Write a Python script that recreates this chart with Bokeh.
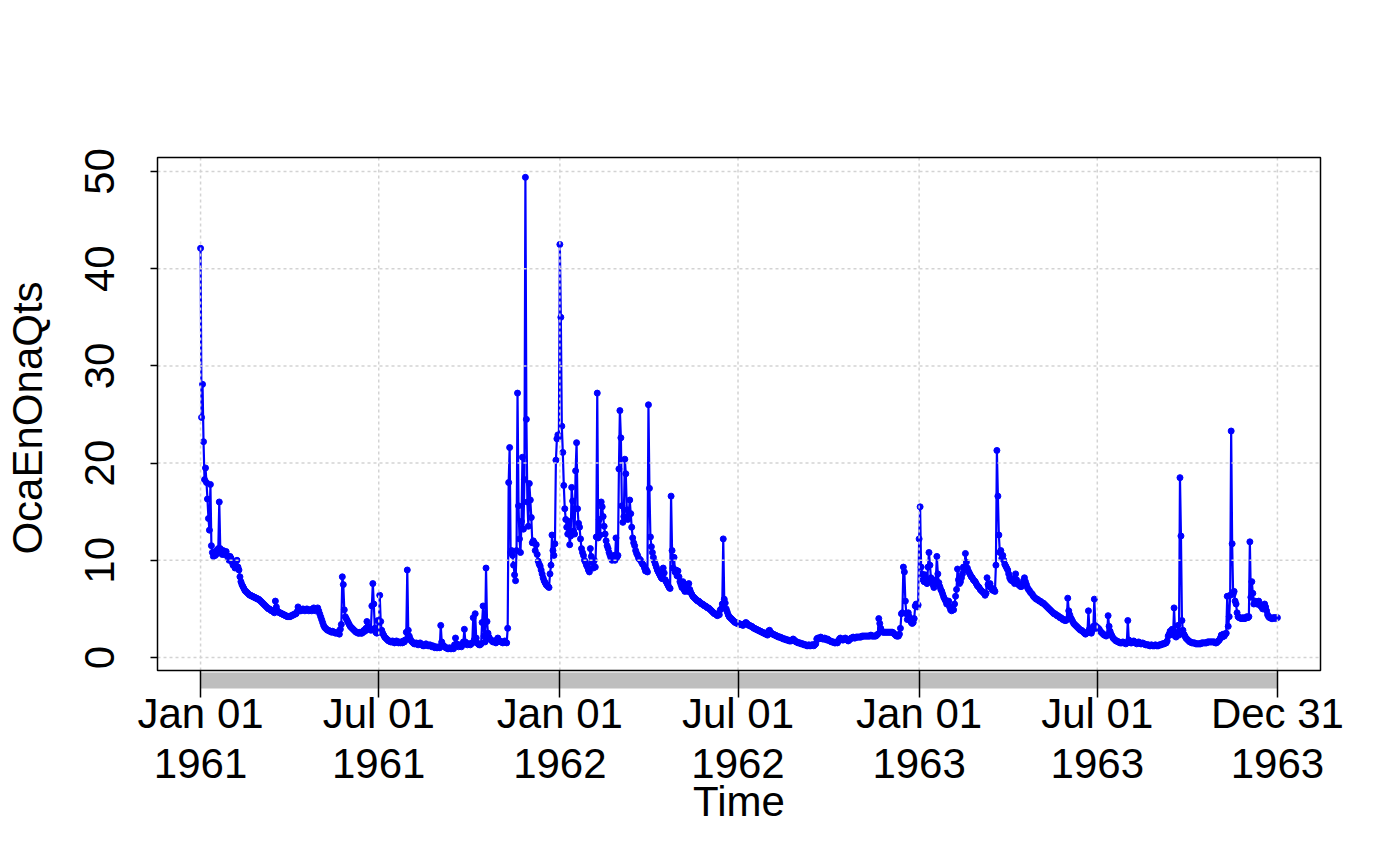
import pandas as pd
from bokeh.plotting import figure
from bokeh.models import Range1d, FixedTicker, ColumnDataSource
from bokeh.embed import file_html
from bokeh.resources import INLINE

# ---- daily values, one list per month ----
q_1961_01 = [42.1, 24.7, 28.1, 22.2, 18.3, 19.5, 18.0, 16.3, 14.3, 13.1,
             17.8, 11.5, 10.8, 10.4, 10.6, 10.5, 11.0, 10.7, 11.2, 16.0,
             11.2, 10.8, 10.6, 11.0, 10.6, 10.8, 10.9, 10.5, 10.2, 10.0, 10.4]
q_1961_02 = [10.2, 9.8, 9.5, 9.6, 9.2, 9.4, 10.0, 9.3, 9.0, 8.3,
             7.8, 7.5, 7.3, 7.1, 6.9, 6.8, 6.7, 6.6, 6.5, 6.4,
             6.4, 6.3, 6.3, 6.2, 6.2, 6.1, 6.1, 6.0]
q_1961_03 = [6.0, 5.9, 5.8, 5.7, 5.6, 5.5, 5.4, 5.3, 5.2, 5.1,
             5.0, 5.0, 4.9, 4.8, 4.8, 4.7, 4.6, 5.8, 5.2, 4.8,
             4.7, 4.6, 4.6, 4.5, 4.5, 4.4, 4.4, 4.3, 4.3, 4.2, 4.2]
q_1961_04 = [4.2, 4.2, 4.3, 4.3, 4.4, 4.4, 4.5, 4.5, 4.7, 5.2,
             4.9, 4.8, 4.8, 4.9, 5.0, 4.9, 4.8, 4.9, 5.0, 4.9,
             4.8, 4.9, 4.9, 4.8, 5.0, 5.1, 4.9, 4.8, 4.9, 5.1]
q_1961_05 = [4.8, 4.5, 4.2, 3.9, 3.6, 3.3, 3.1, 3.0, 2.9, 2.8,
             2.8, 2.7, 2.7, 2.6, 2.7, 2.6, 2.6, 2.5, 2.6, 2.5,
             2.5, 2.4, 2.9, 3.4, 8.3, 7.5, 4.9, 4.2, 4.0, 3.8, 3.6]
q_1961_06 = [3.4, 3.2, 3.1, 3.0, 2.9, 2.8, 2.7, 2.6, 2.6, 2.5,
             2.5, 2.6, 2.5, 2.5, 2.6, 2.8, 2.7, 3.0, 3.7, 3.2,
             2.9, 3.0, 2.8, 5.3, 7.6, 5.5, 3.0, 2.6, 2.5, 3.8]
q_1961_07 = [2.6, 6.4, 3.7, 2.8, 2.5, 2.3, 2.1, 2.0, 1.9, 1.8,
             1.7, 1.7, 1.6, 1.6, 1.7, 1.6, 1.5, 1.6, 1.7, 1.6,
             1.5, 1.6, 1.5, 1.6, 1.5, 1.7, 1.6, 1.8, 2.6, 9.0, 2.8]
q_1961_08 = [2.2, 1.9, 1.7, 1.6, 1.5, 1.4, 1.4, 1.5, 1.4, 1.3,
             1.4, 1.5, 1.4, 1.3, 1.2, 1.2, 1.3, 1.4, 1.3, 1.2,
             1.2, 1.3, 1.2, 1.1, 1.2, 1.1, 1.0, 1.1, 1.0, 1.0, 1.1]
q_1961_09 = [1.0, 3.3, 1.6, 1.3, 1.2, 1.1, 1.0, 1.0, 0.9, 0.9,
             1.0, 0.9, 0.9, 1.0, 0.9, 1.3, 2.0, 1.4, 1.2, 1.1,
             1.3, 1.2, 1.1, 1.3, 1.6, 2.9, 1.6, 1.4, 1.3, 1.4]
q_1961_10 = [1.4, 1.3, 1.4, 1.5, 4.1, 1.8, 4.5, 2.0, 1.5, 1.4,
             1.3, 1.3, 1.4, 3.6, 5.3, 2.2, 1.6, 9.2, 3.7, 2.5,
             2.1, 1.9, 1.8, 1.7, 1.6, 1.7, 1.6, 1.5, 1.8, 2.0, 1.7]
q_1961_11 = [1.7, 1.6, 1.6, 1.5, 1.6, 1.7, 1.6, 1.5, 3.0, 18.0,
             21.6, 10.8, 11.0, 10.5, 9.5, 8.5, 7.9, 11.0, 27.2, 15.6,
             12.2, 10.8, 14.0, 20.6, 13.2, 18.3, 49.4, 24.5, 16.0, 13.5]
q_1961_12 = [17.9, 16.2, 14.4, 11.8, 12.0, 11.8, 11.0, 11.6, 10.6, 9.9,
             9.6, 9.4, 9.0, 8.6, 8.2, 7.9, 7.7, 7.5, 7.4, 7.3,
             7.2, 8.6, 9.5, 12.6, 11.0, 10.5, 11.7, 20.3, 22.5, 22.9, 22.7]
q_1962_01 = [42.5, 35.0, 23.8, 21.1, 17.7, 15.3, 14.2, 13.4, 12.7, 14.0,
             11.6, 12.5, 17.5, 16.1, 13.0, 12.7, 19.2, 22.1, 15.3, 13.8,
             13.4, 12.2, 11.2, 10.8, 10.5, 10.0, 9.8, 9.5, 9.3, 9.0, 8.8]
q_1962_02 = [11.2, 10.4, 9.8, 9.2, 10.0, 9.3, 12.4, 27.2, 12.3, 14.2,
             12.6, 16.0, 15.5, 14.5, 13.5, 12.7, 12.0, 11.5, 11.2, 10.8,
             10.5, 10.2, 10.0, 10.3, 10.5, 10.0, 12.3, 10.3]
q_1962_03 = [10.5, 19.4, 25.4, 22.6, 15.6, 13.9, 14.5, 20.4, 18.9, 15.2,
             14.2, 14.8, 16.2, 14.8, 13.4, 12.3, 11.8, 11.5, 11.0, 10.7,
             10.5, 10.2, 10.1, 10.0, 9.8, 9.6, 9.5, 9.2, 8.9, 9.0, 8.8]
q_1962_04 = [26.0, 17.4, 12.4, 11.4, 10.8, 10.3, 9.9, 9.6, 9.3, 9.0,
             8.8, 8.6, 8.4, 8.2, 8.1, 9.2, 8.7, 8.0, 7.8, 7.6,
             7.4, 7.2, 7.1, 16.6, 11.0, 9.2, 10.3, 8.8, 9.0, 8.4]
q_1962_05 = [8.9, 8.3, 7.8, 7.5, 7.2, 7.8, 7.0, 6.8, 7.5, 7.2,
             6.8, 7.6, 7.0, 6.7, 6.5, 6.3, 6.2, 6.1, 6.0, 5.9,
             5.8, 5.8, 5.7, 5.6, 5.5, 5.5, 5.4, 5.3, 5.3, 5.2, 5.1]
q_1962_06 = [5.1, 5.0, 4.9, 4.8, 4.7, 4.6, 4.5, 4.5, 4.4, 4.3,
             4.5, 4.4, 4.9, 5.0, 5.5, 12.2, 6.0, 5.6, 5.0, 4.7,
             4.4, 4.2, 4.1, 4.0, 3.9, 3.8, 3.7, 3.6, 3.6, 3.5]
q_1962_07 = [3.5, 3.5, 3.4, 3.4, 3.4, 3.3, 3.4, 3.5, 3.6, 3.5,
             3.4, 3.3, 3.3, 3.2, 3.2, 3.1, 3.0, 3.0, 2.9, 2.9,
             2.8, 2.8, 2.7, 2.7, 2.6, 2.6, 2.5, 2.5, 2.4, 2.4, 2.3]
q_1962_08 = [2.7, 2.8, 2.6, 2.5, 2.4, 2.4, 2.3, 2.3, 2.2, 2.2,
             2.1, 2.1, 2.1, 2.0, 2.0, 1.9, 1.9, 1.9, 1.8, 1.8,
             1.8, 1.7, 1.7, 1.7, 1.8, 1.9, 1.8, 1.7, 1.6, 1.6, 1.5]
q_1962_09 = [1.5, 1.5, 1.4, 1.4, 1.4, 1.3, 1.3, 1.3, 1.2, 1.2,
             1.3, 1.2, 1.2, 1.3, 1.3, 1.2, 1.3, 1.4, 1.9, 2.0,
             1.9, 2.0, 2.1, 2.0, 1.9, 1.9, 2.0, 1.9, 1.8, 1.9]
q_1962_10 = [1.8, 1.7, 1.7, 1.6, 1.6, 1.6, 1.5, 1.5, 1.6, 1.5,
             1.7, 1.9, 2.0, 1.9, 1.8, 1.8, 1.9, 2.0, 1.9, 1.8,
             1.7, 1.8, 1.9, 2.0, 2.0, 2.1, 2.0, 2.0, 2.1, 2.1, 2.1]
q_1962_11 = [2.1, 2.1, 2.1, 2.2, 2.2, 2.2, 2.2, 2.2, 2.2, 2.2,
             2.2, 2.2, 2.3, 2.2, 2.2, 2.2, 2.2, 2.2, 2.3, 2.4,
             4.0, 3.5, 3.0, 2.7, 2.6, 2.6, 2.6, 2.6, 2.6, 2.6]
q_1962_12 = [2.6, 2.6, 2.6, 2.6, 2.6, 2.5, 2.4, 2.3, 2.2, 2.2,
             2.2, 2.4, 3.0, 4.5, 4.6, 9.3, 8.8, 5.8, 4.5, 3.9,
             4.6, 4.2, 3.8, 3.6, 3.5, 3.6, 4.0, 5.3, 5.5, 5.2, 5.4]
q_1963_01 = [12.2, 15.5, 9.3, 8.6, 8.0, 7.8, 8.5, 8.0, 7.6, 9.3,
             10.8, 9.5, 8.2, 7.8, 7.5, 7.2, 7.6, 8.0, 10.4, 8.6,
             7.7, 7.3, 7.0, 6.8, 6.5, 6.2, 6.0, 5.8, 5.5, 5.6, 5.8]
q_1963_02 = [5.2, 4.9, 4.8, 5.2, 4.9, 5.5, 6.3, 7.0, 9.1, 8.0,
             7.6, 7.8, 8.2, 8.6, 9.3, 9.0, 10.7, 9.8, 9.2, 8.9,
             8.7, 8.5, 8.3, 8.2, 8.0, 7.9, 7.8, 7.6]
q_1963_03 = [7.4, 7.3, 7.2, 7.0, 6.9, 6.8, 6.7, 6.6, 6.4, 6.6,
             8.2, 7.5, 7.3, 7.6, 7.2, 7.0, 6.9, 7.0, 6.8, 9.5,
             21.3, 16.6, 12.6, 10.8, 11.0, 10.2, 10.5, 10.0, 9.6, 9.4, 9.2]
q_1963_04 = [9.0, 8.6, 8.2, 8.0, 7.9, 8.1, 7.8, 7.6, 8.6, 8.0,
             7.7, 7.5, 7.4, 7.3, 7.3, 7.5, 7.9, 8.2, 7.8, 7.5,
             7.2, 7.0, 6.9, 6.7, 6.6, 6.5, 6.3, 6.2, 6.1, 6.0]
q_1963_05 = [6.0, 5.9, 5.8, 5.8, 5.7, 5.6, 5.6, 5.5, 5.4, 5.3,
             5.2, 5.1, 5.0, 4.9, 4.8, 4.7, 4.6, 4.5, 4.5, 4.4,
             4.3, 4.3, 4.2, 4.1, 4.1, 4.0, 3.9, 3.9, 3.8, 3.8, 3.9]
q_1963_06 = [6.1, 4.8, 4.4, 4.1, 3.9, 3.7, 3.5, 3.4, 3.3, 3.2,
             3.1, 3.0, 2.9, 2.8, 2.8, 2.7, 2.6, 2.5, 2.4, 2.5,
             2.6, 4.8, 2.9, 2.6, 2.5, 2.8, 3.2, 6.0, 3.3, 3.0]
q_1963_07 = [3.1, 3.0, 2.9, 2.7, 2.6, 2.5, 2.4, 2.3, 2.3, 2.2,
             2.3, 4.3, 3.2, 2.7, 2.4, 2.2, 2.0, 1.9, 1.8, 1.7,
             1.7, 1.6, 1.6, 1.5, 1.5, 1.5, 1.6, 1.5, 1.5, 1.4, 1.5]
q_1963_08 = [3.8, 1.8, 1.6, 1.5, 1.5, 1.6, 1.7, 1.6, 1.5, 1.4,
             1.5, 1.6, 1.5, 1.4, 1.4, 1.5, 1.4, 1.4, 1.3, 1.3,
             1.3, 1.3, 1.2, 1.2, 1.3, 1.2, 1.2, 1.2, 1.3, 1.2, 1.2]
q_1963_09 = [1.2, 1.3, 1.3, 1.3, 1.4, 1.4, 1.4, 1.5, 1.5, 1.7,
             2.2, 2.4, 2.7, 2.5, 2.9, 2.3, 5.1, 2.6, 2.1, 2.4,
             3.3, 2.3, 18.5, 12.5, 3.8, 2.8, 2.4, 2.2, 2.0, 1.9]
q_1963_10 = [1.8, 1.7, 1.6, 1.6, 1.5, 1.5, 1.5, 1.5, 1.4, 1.4,
             1.4, 1.4, 1.4, 1.4, 1.5, 1.5, 1.5, 1.5, 1.5, 1.5,
             1.6, 1.6, 1.6, 1.6, 1.6, 1.6, 1.6, 1.6, 1.5, 1.5, 1.6]
q_1963_11 = [1.7, 1.8, 2.0, 2.3, 2.1, 2.4, 2.2, 2.4, 2.5, 6.3,
             3.2, 4.2, 6.4, 23.3, 11.7, 6.5, 6.8, 5.8, 5.5, 4.6,
             4.2, 4.1, 4.1, 4.0, 4.0, 4.1, 4.0, 4.0, 4.1, 4.2]
q_1963_12 = [4.1, 4.2, 11.9, 6.2, 7.8, 6.6, 5.5, 5.8, 5.6, 5.5,
             5.6, 5.8, 5.4, 5.3, 5.2, 5.0, 5.4, 5.5, 5.2, 4.8,
             4.4, 4.2, 4.1, 4.1, 4.0, 4.0, 4.1, 4.1, 4.0, 4.1, 4.1]

months = [q_1961_01, q_1961_02, q_1961_03, q_1961_04, q_1961_05, q_1961_06,
          q_1961_07, q_1961_08, q_1961_09, q_1961_10, q_1961_11, q_1961_12,
          q_1962_01, q_1962_02, q_1962_03, q_1962_04, q_1962_05, q_1962_06,
          q_1962_07, q_1962_08, q_1962_09, q_1962_10, q_1962_11, q_1962_12,
          q_1963_01, q_1963_02, q_1963_03, q_1963_04, q_1963_05, q_1963_06,
          q_1963_07, q_1963_08, q_1963_09, q_1963_10, q_1963_11, q_1963_12]

tick_dates = ["1961-01-01", "1961-07-01", "1962-01-01", "1962-07-01",
              "1963-01-01", "1963-07-01", "1963-12-31"]
tick_labels = ["Jan 01\n1961", "Jul 01\n1961", "Jan 01\n1962", "Jul 01\n1962",
               "Jan 01\n1963", "Jul 01\n1963", "Dec 31\n1963"]
y_ticks = [0, 10, 20, 30, 40, 50]

# ---- build series ----
values = []
for m in months:
    values.extend(m)
dates = pd.date_range("1961-01-01", periods=len(values), freq="D")
src = ColumnDataSource(dict(date=dates, q=values))

def ms(ts):
    return int(pd.Timestamp(ts).value // 10**6)

t0, t1 = ms(dates[0]), ms(dates[-1])
ext = 0.04 * (t1 - t0)
box_x0, box_x1 = t0 - ext, t1 + ext
px_x = (box_x1 - box_x0) / 1163.0
box_y0, box_y1 = -1.34, 51.44
px_y = (box_y1 - box_y0) / 513.0

FONT = "Liberation Sans"
FS = "42px"

p = figure(width=1384, height=850, frame_width=1167, frame_height=525,
           x_axis_type="datetime", output_backend="svg", toolbar_location=None,
           min_border_left=155, min_border_top=155, min_border_right=62,
           min_border_bottom=160,
           x_range=Range1d(box_x0 - 2 * px_x, box_x1 + 2 * px_x),
           y_range=Range1d(box_y0 - 10 * px_y, box_y1 + 2 * px_y))
p.outline_line_color = None
p.background_fill_color = "white"
p.border_fill_color = "white"
p.xgrid.visible = False
p.ygrid.visible = False

# data
p.line("date", "q", source=src, line_color="#0000FF", line_width=2.2)
p.scatter("date", "q", source=src, size=6, fill_color="#0000FF",
          line_color="#0000FF", marker="circle")

# grid drawn over the data (dotted light grey)
tick_ms = [ms(t) for t in tick_dates]
p.segment(x0=tick_ms, x1=tick_ms, y0=[box_y0] * len(tick_ms), y1=[box_y1] * len(tick_ms),
          line_color="#D3D3D3", line_width=1.5, line_dash="3 3")
p.segment(x0=[box_x0] * len(y_ticks), x1=[box_x1] * len(y_ticks), y0=y_ticks, y1=y_ticks,
          line_color="#D3D3D3", line_width=1.5, line_dash="3 3")

# plot box
p.quad(left=[box_x0], right=[box_x1], bottom=[box_y0], top=[box_y1],
       fill_color=None, line_color="black", line_width=1.5)

# x axis: grey band with ticks
xa = p.xaxis[0]
xa.ticker = FixedTicker(ticks=tick_ms)
xa.major_label_overrides = {t: lab for t, lab in zip(tick_ms, tick_labels)}
xa.bounds = (t0, t1)
xa.axis_line_color = "#BEBEBE"
xa.axis_line_width = 16
xa.major_tick_line_color = "black"
xa.major_tick_line_width = 1.5
xa.major_tick_in = 10
xa.major_tick_out = 17
xa.minor_tick_line_color = None
xa.major_label_text_font = FONT
xa.major_label_text_font_size = FS
xa.major_label_text_color = "black"
xa.major_label_text_line_height = 1.08
xa.major_label_standoff = -8
xa.axis_label = "Time"
xa.axis_label_text_font = FONT
xa.axis_label_text_font_size = FS
xa.axis_label_text_font_style = "normal"
xa.axis_label_text_color = "black"
xa.axis_label_standoff = -12

ya = p.yaxis[0]
ya.ticker = FixedTicker(ticks=y_ticks)
ya.bounds = (0, 50)
ya.axis_line_color = None
ya.major_tick_line_color = "black"
ya.major_tick_line_width = 1.5
ya.major_tick_in = 2
ya.major_tick_out = 5
ya.minor_tick_line_color = None
ya.major_label_orientation = "vertical"
ya.major_label_text_font = FONT
ya.major_label_text_font_size = FS
ya.major_label_text_color = "black"
ya.major_label_standoff = 36
ya.axis_label = "OcaEnOnaQts"
ya.axis_label_text_font = FONT
ya.axis_label_text_font_size = FS
ya.axis_label_text_font_style = "normal"
ya.axis_label_text_color = "black"
ya.axis_label_text_line_height = 0.8
ya.axis_label_standoff = 32

open("out.html", "w").write(file_html(p, INLINE))
